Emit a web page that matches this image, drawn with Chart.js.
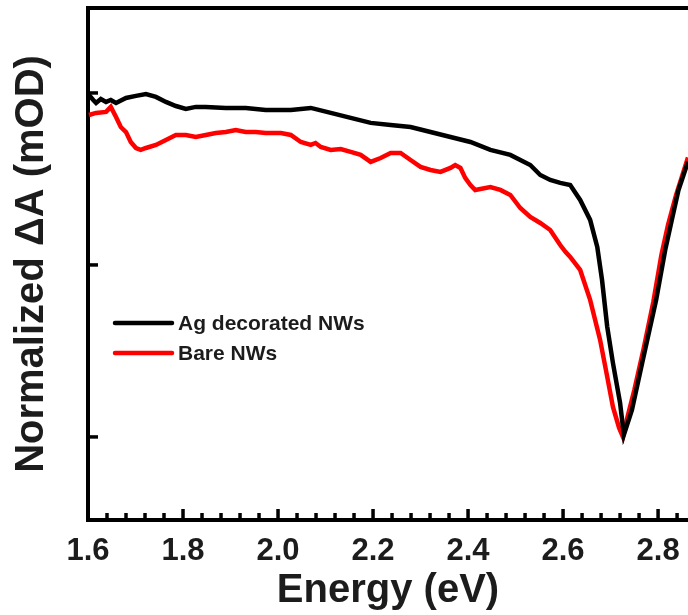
<!DOCTYPE html>
<html>
<head>
<meta charset="utf-8">
<title>Normalized transient absorption</title>
<script src="https://cdn.jsdelivr.net/npm/chart.js@4/dist/chart.umd.min.js"></script>
<style>
  body { margin: 0; background: #fff; }
  #chart { display: block; }
</style>
</head>
<body>
<canvas id="chart" width="688" height="615"></canvas>
<script>
// Series labels
const seriesLabels = ['Ag decorated NWs', 'Bare NWs'];

// Ag decorated NWs (black)
const energyAg = [1.602, 1.611, 1.617, 1.627, 1.638, 1.648, 1.659, 1.680, 1.701, 1.722, 1.743, 1.764, 1.785, 1.806, 1.827, 1.848, 1.890, 1.932, 1.974, 2.027, 2.069, 2.111, 2.153, 2.195, 2.237, 2.279, 2.321, 2.363, 2.405, 2.447, 2.489, 2.531, 2.552, 2.573, 2.594, 2.615, 2.636, 2.657, 2.672, 2.682, 2.693, 2.705, 2.720, 2.728, 2.745, 2.768, 2.796, 2.815, 2.829, 2.843, 2.863];
const deltaAg = [1.988, 1.959, 1.942, 1.965, 1.948, 1.959, 1.942, 1.971, 1.983, 1.994, 1.977, 1.948, 1.924, 1.907, 1.919, 1.919, 1.913, 1.913, 1.901, 1.901, 1.913, 1.884, 1.855, 1.826, 1.814, 1.802, 1.773, 1.744, 1.715, 1.669, 1.640, 1.581, 1.523, 1.494, 1.477, 1.465, 1.378, 1.262, 1.105, 0.913, 0.640, 0.430, 0.198, 0.012, 0.157, 0.448, 0.797, 1.087, 1.262, 1.436, 1.600];

// Bare NWs (red)
const energyBare = [1.602, 1.617, 1.638, 1.648, 1.659, 1.669, 1.680, 1.690, 1.701, 1.711, 1.722, 1.743, 1.764, 1.785, 1.806, 1.827, 1.848, 1.869, 1.890, 1.911, 1.932, 1.953, 1.974, 2.006, 2.027, 2.048, 2.069, 2.079, 2.090, 2.111, 2.132, 2.153, 2.174, 2.195, 2.216, 2.237, 2.258, 2.279, 2.300, 2.321, 2.342, 2.363, 2.373, 2.384, 2.394, 2.405, 2.415, 2.447, 2.468, 2.489, 2.510, 2.531, 2.552, 2.573, 2.594, 2.605, 2.615, 2.636, 2.657, 2.678, 2.693, 2.705, 2.718, 2.726, 2.734, 2.750, 2.769, 2.790, 2.807, 2.821, 2.838, 2.863];
const deltaBare = [1.872, 1.884, 1.890, 1.919, 1.860, 1.802, 1.773, 1.715, 1.680, 1.669, 1.680, 1.698, 1.727, 1.756, 1.756, 1.744, 1.756, 1.767, 1.773, 1.785, 1.773, 1.773, 1.767, 1.767, 1.756, 1.715, 1.698, 1.709, 1.686, 1.669, 1.674, 1.657, 1.640, 1.599, 1.622, 1.651, 1.651, 1.610, 1.570, 1.552, 1.541, 1.564, 1.581, 1.564, 1.506, 1.465, 1.436, 1.453, 1.436, 1.407, 1.331, 1.279, 1.244, 1.203, 1.116, 1.076, 1.047, 0.971, 0.797, 0.564, 0.349, 0.174, 0.052, 0.000, 0.099, 0.273, 0.506, 0.785, 1.058, 1.233, 1.407, 1.625];

// Axis ticks
const xMajorTicks = [1.6, 1.8, 2.0, 2.2, 2.4, 2.6, 2.8];
const xMinorStep = 0.04;
const yTicks = [0, 1, 2];

const FONT = "'Liberation Sans', Arial, Helvetica, sans-serif";
const INK = '#1c1c1c';

function toPoints(xs, ys) {
    return xs.map((x, i) => ({ x: x, y: ys[i] }));
}

// Inward tick marks on the bottom and left axes
const insideTicks = {
    id: 'insideTicks',
    afterDatasetsDraw(chart) {
        const ctx = chart.ctx;
        const area = chart.chartArea;
        const xs = chart.scales.x;
        const ys = chart.scales.y;
        ctx.save();
        ctx.strokeStyle = '#000';
        ctx.lineWidth = 3.5;
        for (let v = xs.min; v <= xs.max + 1e-9; v += xMinorStep) {
            const rounded = Math.round(v * 100) / 100;
            const major = xMajorTicks.some(t => Math.abs(t - rounded) < 1e-6);
            const px = xs.getPixelForValue(rounded);
            ctx.beginPath();
            ctx.moveTo(px, area.bottom);
            ctx.lineTo(px, area.bottom - (major ? 11 : 7));
            ctx.stroke();
        }
        yTicks.forEach(v => {
            const py = ys.getPixelForValue(v);
            ctx.beginPath();
            ctx.moveTo(area.left, py);
            ctx.lineTo(area.left + 10, py);
            ctx.stroke();
        });
        ctx.restore();
    }
};

// Legend drawn inside the plot area
const innerLegend = {
    id: 'innerLegend',
    afterDraw(chart) {
        const ctx = chart.ctx;
        const area = chart.chartArea;
        const x0 = area.left + 27;
        const y0 = area.top + 315;
        ctx.save();
        ctx.font = 'bold 21px ' + FONT;
        ctx.textBaseline = 'middle';
        chart.data.datasets.forEach((ds, i) => {
            const y = y0 + i * 30;
            ctx.strokeStyle = ds.borderColor;
            ctx.lineWidth = 4.5;
            ctx.lineCap = 'round';
            ctx.beginPath();
            ctx.moveTo(x0, y);
            ctx.lineTo(x0 + 57, y);
            ctx.stroke();
            ctx.fillStyle = INK;
            ctx.fillText(ds.label, x0 + 63, y + 1);
        });
        ctx.restore();
    }
};

const ctx = document.getElementById('chart').getContext('2d');
new Chart(ctx, {
    type: 'line',
    data: {
        datasets: [
            {
                label: seriesLabels[0],
                data: toPoints(energyAg, deltaAg),
                borderColor: '#000000',
                borderWidth: 4.5,
                pointRadius: 0,
                tension: 0
            },
            {
                label: seriesLabels[1],
                data: toPoints(energyBare, deltaBare),
                borderColor: '#ff0000',
                borderWidth: 4.5,
                pointRadius: 0,
                tension: 0
            }
        ]
    },
    options: {
        responsive: false,
        animation: false,
        layout: { padding: { top: 0, right: 0, left: 0, bottom: 0 } },
        plugins: {
            legend: { display: false },
            tooltip: { enabled: false }
        },
        scales: {
            x: {
                type: 'linear',
                min: 1.6,
                max: 2.863,
                afterFit: s => { s.height = 95; s.paddingLeft = 0; s.paddingRight = 0; },
                afterBuildTicks: s => { s.ticks = xMajorTicks.map(v => ({ value: v })); },
                grid: { display: false, drawTicks: false },
                border: { display: true, color: '#000', width: 4 },
                ticks: {
                    autoSkip: false,
                    maxRotation: 0,
                    padding: 13,
                    color: INK,
                    font: { family: FONT, size: 31, weight: 'bold' },
                    callback: v => Number(v).toFixed(1)
                },
                title: {
                    display: true,
                    text: 'Energy (eV)',
                    color: INK,
                    padding: 0,
                    font: { family: FONT, size: 40, weight: 'bold' }
                }
            },
            xTop: {
                type: 'linear',
                position: 'top',
                min: 1.6,
                max: 2.863,
                afterFit: s => { s.height = 8; },
                grid: { display: false, drawTicks: false },
                border: { display: true, color: '#000', width: 4 },
                ticks: { display: false }
            },
            y: {
                type: 'linear',
                min: -0.483,
                max: 2.494,
                afterFit: s => { s.width = 88; },
                afterBuildTicks: s => { s.ticks = yTicks.map(v => ({ value: v })); },
                grid: { display: false, drawTicks: false },
                border: { display: true, color: '#000', width: 4 },
                ticks: { display: false },
                title: {
                    display: true,
                    text: 'Normalized \u0394A (mOD)',
                    color: INK,
                    padding: 8,
                    font: { family: FONT, size: 40, weight: 'bold' }
                }
            }
        }
    },
    plugins: [insideTicks, innerLegend]
});
</script>
</body>
</html>
